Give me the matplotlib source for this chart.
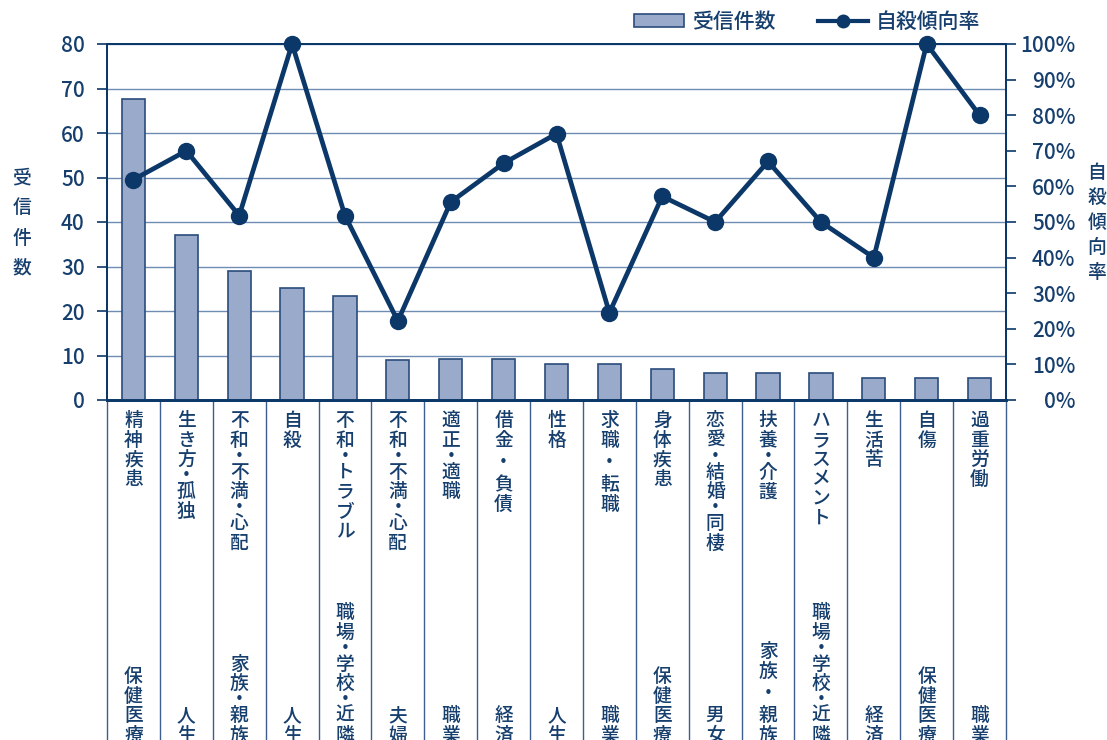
import numpy as np
import matplotlib
matplotlib.use('Agg')
import matplotlib.pyplot as plt
import matplotlib.transforms as mtransforms
from matplotlib.patches import Patch
from matplotlib.lines import Line2D

plt.rcParams['font.family'] = ['Noto Sans CJK JP', 'DejaVu Sans']
plt.rcParams['font.weight'] = 'medium'

# データ
categories = ['精神疾患', '生き方・孤独', '不和・不満・心配', '自殺', '不和・トラブル',
              '不和・不満・心配', '適正・適職', '借金・負債', '性格', '求職・転職',
              '身体疾患', '恋愛・結婚・同棲', '扶養・介護', 'ハラスメント', '生活苦',
              '自傷', '過重労働']
groups = ['保健医療', '人生', '家族・親族', '人生', '職場・学校・近隣',
          '夫婦', '職業', '経済', '人生', '職業',
          '保健医療', '男女', '家族・親族', '職場・学校・近隣', '経済',
          '保健医療', '職業']
counts = [67.7, 37, 29, 25.2, 23.3, 9, 9.2, 9.2, 8, 8, 7, 6.1, 6.1, 6.1, 5, 5, 5]
rates = [61.9, 70.0, 51.8, 100, 51.8, 22.2, 55.6, 66.5, 74.8, 24.5,
         57.2, 50.0, 67.0, 50.0, 40.0, 100, 80.0]

# 中黒の間隔が広いラベル (index)
wide_dot_cat = [7, 9]
wide_dot_grp = [12]

NAVY = '#0b3868'
TEXT = '#163f6e'
BAR = '#9aaaca'
BAR_EDGE = '#2a4c7c'
GRID = '#6f8cb3'

fig = plt.figure(figsize=(11.07, 7.40), dpi=100)
ax = fig.add_axes([107/1107, 1 - 400/740, 899/1107, 356/740])
ax2 = ax.twinx()

n = len(categories)
x = np.arange(n)

ax.bar(x, counts, width=0.44, color=BAR, edgecolor=BAR_EDGE, linewidth=1.2, zorder=3)
ax.set_xlim(-0.5, n - 0.5)
ax.set_ylim(0, 80)
ax.set_yticks(range(0, 81, 10))
ax.yaxis.grid(True, color=GRID, linewidth=1.0, zorder=0)
ax.set_axisbelow(True)
ax.set_xticks([])

ax2.plot(x, rates, color=NAVY, linewidth=3.4, marker='o', markersize=11.5,
         zorder=5, clip_on=False)
ax2.set_ylim(0, 100)
ax2.set_yticks(range(0, 101, 10))
ax2.set_yticklabels([f'{v}%' for v in range(0, 101, 10)])
ax.set_zorder(1)
ax2.set_zorder(2)
ax.patch.set_visible(False)

for a in (ax, ax2):
    for s in a.spines.values():
        s.set_color(NAVY)
        s.set_linewidth(1.4)
    a.spines['bottom'].set_linewidth(2.0)

ax.tick_params(axis='y', direction='out', length=7, width=1.2, color=NAVY,
               labelcolor=TEXT, labelsize=15, pad=9)
ax2.tick_params(axis='y', direction='out', length=7, width=1.2, color=NAVY,
                labelcolor=TEXT, labelsize=15, pad=43)
for lab in ax2.get_yticklabels():
    lab.set_ha('right')

# 区切り線
trans = ax.get_xaxis_transform()
ax.vlines(np.arange(n + 1) - 0.5, -1.2, 0, transform=trans, color='#3d5f8f',
          linewidth=1.0, clip_on=False)

CHAR_STEP = 19.5   # px
DOT_STEP = 12.5
WIDE_DOT_STEP = 25


def steps(s, wide):
    out = []
    for ch in s:
        if ch == '・':
            out.append(WIDE_DOT_STEP if wide else DOT_STEP)
        else:
            out.append(CHAR_STEP)
    return out


def vertical_text(xc, s, start_px, wide=False, from_bottom=False):
    """縦書き: 軸下端からの距離(px)で一文字ずつ配置"""
    st = steps(s, wide)
    if from_bottom:
        start_px = start_px - sum(st)
    cur = start_px
    for ch, h in zip(s, st):
        off = mtransforms.offset_copy(trans, fig=fig, x=0, y=-(cur + h / 2),
                                      units='dots')
        ax.text(xc, 0, ch, transform=off, ha='center', va='center',
                fontsize=13.5, color=TEXT, clip_on=False)
        cur += h


for i in range(n):
    vertical_text(x[i], categories[i], 11, wide=i in wide_dot_cat)
    vertical_text(x[i], groups[i], 345, wide=i in wide_dot_grp, from_bottom=True)

# 軸ラベル
fig.text(22/1107, 1 - 223/740, '\n'.join('受信件数'), ha='center', va='center',
         fontsize=13.5, color=TEXT, linespacing=1.75)
fig.text(1097/1107, 1 - 222/740, '\n'.join('自殺傾向率'), ha='center', va='center',
         fontsize=13.5, color=TEXT, linespacing=1.4)

# 凡例
handles = [Patch(facecolor=BAR, edgecolor=BAR_EDGE, linewidth=1.2),
           Line2D([], [], color=NAVY, linewidth=3, marker='o', markersize=9)]
fig.legend(handles, ['受信件数', '自殺傾向率'], loc='center right',
           bbox_to_anchor=(999/1107, 1 - 22/740), ncol=2, frameon=False,
           prop={'size': 15, 'weight': 'medium'}, labelcolor=TEXT,
           handlelength=2.4, handleheight=0.6, columnspacing=2.0,
           handletextpad=0.4)

fig.savefig('out.png', dpi=100)
